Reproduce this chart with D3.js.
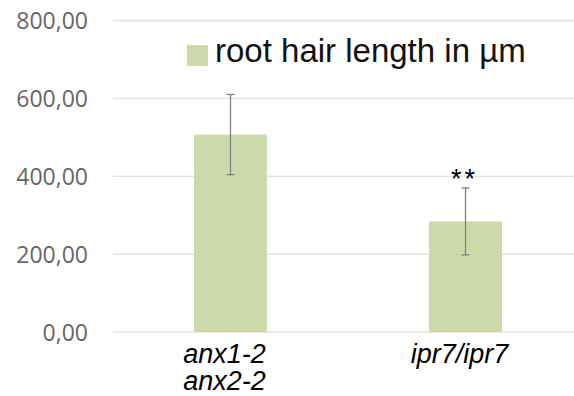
<!DOCTYPE html>
<html><head><meta charset="utf-8">
<script src="https://cdn.jsdelivr.net/npm/d3@7"></script>
<style>body{margin:0;background:#fff}svg{display:block}</style>
</head><body>
<svg id="c" width="574" height="396"></svg>
<script>
const categories = [["anx1-2","anx2-2"],["ipr7/ipr7"]];
const values = [507, 284];
const errors = [103, 86];
const significance = ["", "**"];
const yTicks = [0, 200, 400, 600, 800];
const seriesName = "root hair length in µm";

const svg = d3.select("#c");
const W = 574, H = 396;
const m = {left:113, right:-9, top:20.5, bottom:64};
const x = d3.scaleBand().domain(d3.range(values.length)).range([m.left, W - m.right]).paddingInner(0.69).paddingOuter(0.345);
const y = d3.scaleLinear().domain([0, 800]).range([332, 20.5]);

// gridlines
svg.append("g").selectAll("line").data(yTicks).join("line")
  .attr("x1", m.left).attr("x2", W).attr("y1", d => y(d)).attr("y2", d => y(d))
  .attr("stroke", "#e3e3e3").attr("stroke-width", 1.5);

// y axis labels
const yAxis = svg.append("g").attr("transform", `translate(${m.left},0)`)
  .call(d3.axisLeft(y).tickValues(yTicks).tickSize(0).tickPadding(25)
    .tickFormat(d => d3.format(".2f")(d).replace(".", ",")));
yAxis.select(".domain").remove();
yAxis.selectAll("text").attr("font-family", "Open Sans").attr("font-size", 23).attr("fill", "#666").attr("dy", "0.35em");

// bars
svg.append("g").selectAll("rect").data(values).join("rect")
  .attr("x", (d, i) => x(i)).attr("width", x.bandwidth())
  .attr("y", d => y(d)).attr("height", d => y(0) - y(d))
  .attr("fill", "#cdd9a9");

// error bars
const eb = svg.append("g").attr("stroke", "#808080").attr("stroke-width", 1.3);
values.forEach((v, i) => {
  const cx = x(i) + x.bandwidth() / 2;
  eb.append("line").attr("x1", cx).attr("x2", cx).attr("y1", y(v + errors[i])).attr("y2", y(v - errors[i]));
  eb.append("line").attr("x1", cx - 4).attr("x2", cx + 4).attr("y1", y(v + errors[i])).attr("y2", y(v + errors[i]));
  eb.append("line").attr("x1", cx - 4).attr("x2", cx + 4).attr("y1", y(v - errors[i])).attr("y2", y(v - errors[i]));
});

// significance
svg.append("g").selectAll("text").data(significance).join("text")
  .attr("x", (d, i) => x(i) + x.bandwidth() / 2 - 1)
  .attr("y", (d, i) => y(values[i] + errors[i]) + 0.5)
  .attr("text-anchor", "middle").attr("font-family", "Liberation Sans").attr("font-size", 27)
  .attr("letter-spacing", 3).attr("fill", "#000").text(d => d);

// x labels
const xl = svg.append("g");
categories.forEach((lines, i) => {
  const t = xl.append("text").attr("text-anchor", "middle")
    .attr("font-family", "Liberation Sans").attr("font-style", "italic").attr("font-size", 27).attr("fill", "#000");
  lines.forEach((l, j) => t.append("tspan").attr("x", x(i) + x.bandwidth() / 2 - 6).attr("y", 363 + j * 27).text(l));
});

// legend
const lg = svg.append("g");
lg.append("rect").attr("x", 187).attr("y", 45).attr("width", 21).attr("height", 21).attr("fill", "#cdd9a9");
lg.append("text").attr("x", 215).attr("y", 62).attr("font-family", "Liberation Sans").attr("font-size", 33)
  .attr("fill", "#111").text(seriesName);
</script>
</body></html>
